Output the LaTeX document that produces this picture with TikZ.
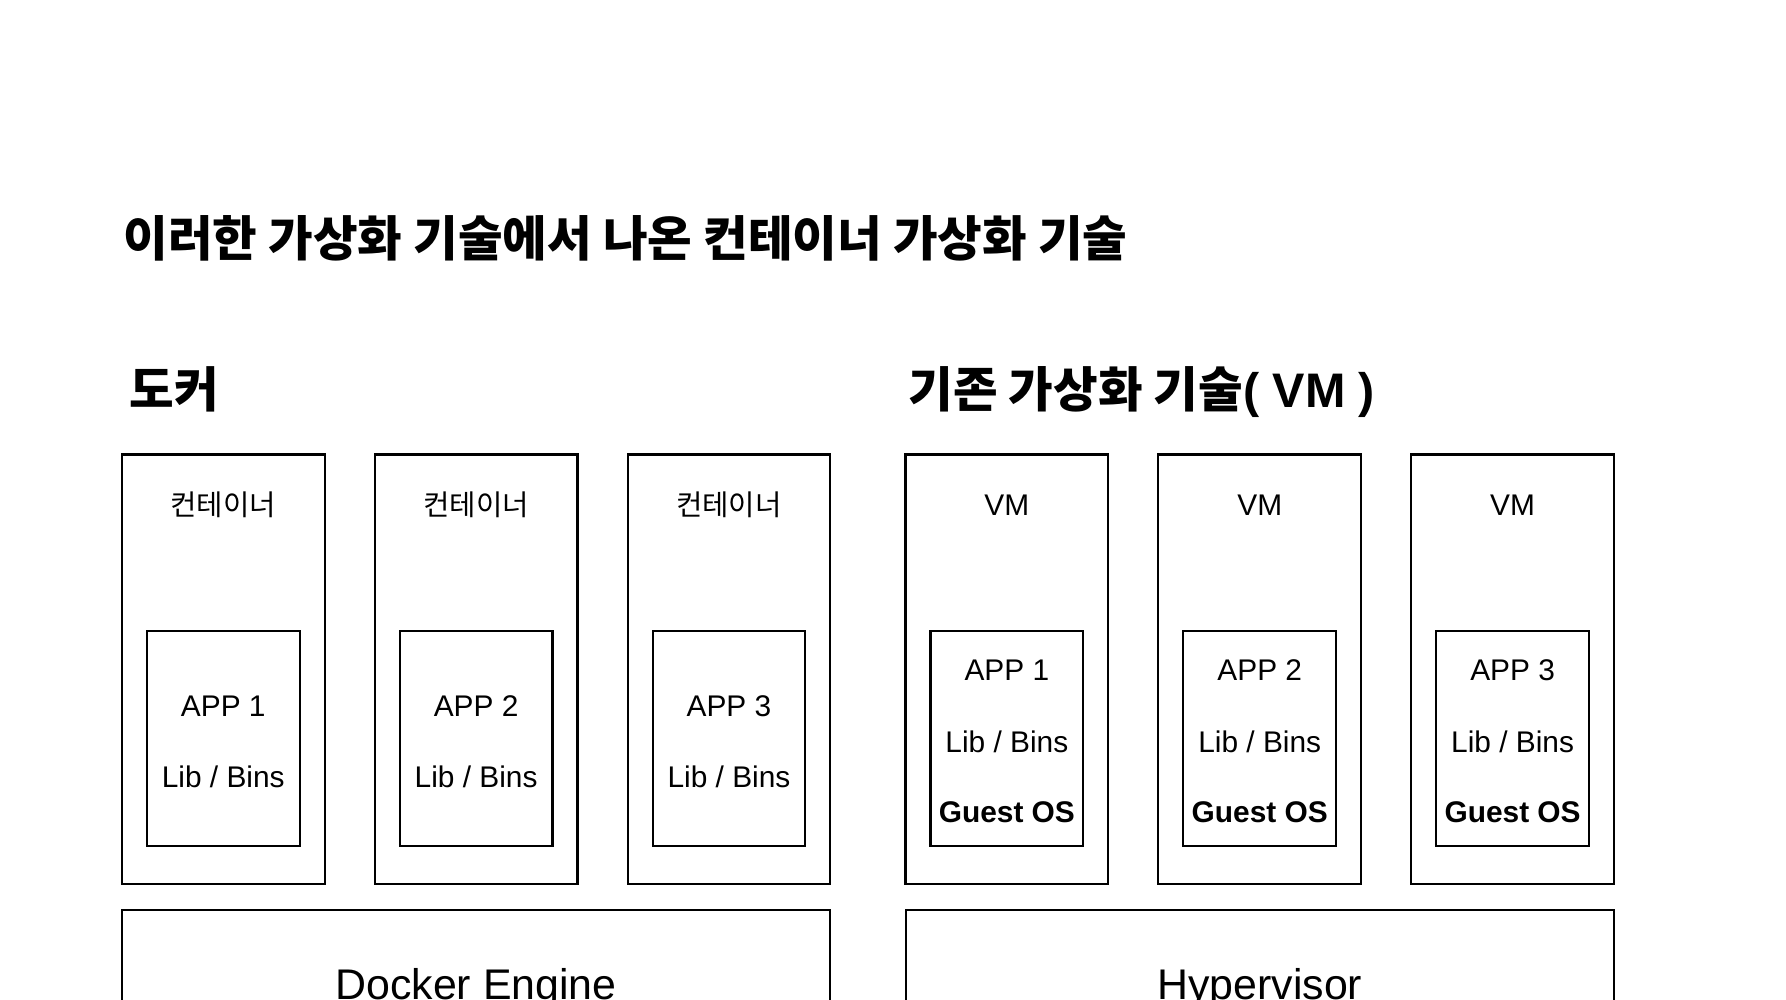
\documentclass[tikz,border=0pt]{standalone}
\usepackage{fontspec}
\setmainfont{Liberation Sans}
\newfontfamily\kofont{Noto Sans CJK KR}
\tikzset{box/.style={draw, line width=0.6pt, inner sep=0pt},
         outer/.style={box, minimum width=2.027cm, minimum height=4.294cm},
         inner/.style={box, minimum width=1.527cm, minimum height=2.153cm},
         base/.style={box, minimum width=7.084cm, minimum height=2.4cm, anchor=north},
         head/.style={font=\fontsize{13.8}{16}\selectfont\kofont\bfseries, anchor=base west, inner sep=0pt},
         txt/.style={font=\fontsize{8.5}{10}\selectfont, anchor=base, inner sep=0pt},
         kotxt/.style={font=\fontsize{8.15}{10}\selectfont\kofont, anchor=base, inner sep=0pt},
         engine/.style={font=\fontsize{12.2}{15}\selectfont, anchor=base, inner sep=0pt}}

\begin{document}
\begin{tikzpicture}
\useasboundingbox (0,0) rectangle (17.86,10);
\clip (0,0) rectangle (17.86,10);
% Titles:
\node[head] (title) at (1.23,7.43) {이러한 가상화 기술에서 나온 컨테이너 가상화 기술};
\node[head] (docker) at (1.287,5.92) {도커};
\node[head] (vmhead) at (9.078,5.92) {기존 가상화 기술{\fontspec{Liberation Sans}( VM )}};

% Docker side:
\node[outer] (con1) at (2.2325,3.308) {};
\node[outer] (con2) at (4.761,3.308) {};
\node[outer] (con3) at (7.2895,3.308) {};
\node[kotxt] (conlbl1) at (2.2325,4.848) {컨테이너};
\node[kotxt] (conlbl2) at (4.761,4.848) {컨테이너};
\node[kotxt] (conlbl3) at (7.2895,4.848) {컨테이너};
\node[inner] (app1) at (2.2325,2.6135) {};
\node[inner] (app2) at (4.761,2.6135) {};
\node[inner] (app3) at (7.2895,2.6135) {};
\node[txt] (appname1) at (2.2325,2.833) {APP 1};
\node[txt] (appname2) at (4.761,2.833) {APP 2};
\node[txt] (appname3) at (7.2895,2.833) {APP 3};
\node[txt] (applib1) at (2.2325,2.125) {Lib / Bins};
\node[txt] (applib2) at (4.761,2.125) {Lib / Bins};
\node[txt] (applib3) at (7.2895,2.125) {Lib / Bins};
\node[base] (dockbox) at (4.761,0.91) {};
\node[engine] (docklbl) at (4.761,0) {Docker Engine};

% VM side:
\node[outer] (vm1) at (10.0685,3.308) {};
\node[outer] (vm2) at (12.5975,3.308) {};
\node[outer] (vm3) at (15.126,3.308) {};
\node[txt] (vmlbl1) at (10.0685,4.847) {VM};
\node[txt] (vmlbl2) at (12.5975,4.847) {VM};
\node[txt] (vmlbl3) at (15.126,4.847) {VM};
\node[inner] (guest1) at (10.0685,2.6135) {};
\node[inner] (guest2) at (12.5975,2.6135) {};
\node[inner] (guest3) at (15.126,2.6135) {};
\node[txt] (vmapp1) at (10.0685,3.196) {APP 1};
\node[txt] (vmapp2) at (12.5975,3.196) {APP 2};
\node[txt] (vmapp3) at (15.126,3.196) {APP 3};
\node[txt] (vmlib1) at (10.0685,2.478) {Lib / Bins};
\node[txt] (vmlib2) at (12.5975,2.478) {Lib / Bins};
\node[txt] (vmlib3) at (15.126,2.478) {Lib / Bins};
\node[txt, font=\fontsize{8.5}{10}\selectfont\bfseries] (os1) at (10.0685,1.773) {Guest OS};
\node[txt, font=\fontsize{8.5}{10}\selectfont\bfseries] (os2) at (12.5975,1.773) {Guest OS};
\node[txt, font=\fontsize{8.5}{10}\selectfont\bfseries] (os3) at (15.126,1.773) {Guest OS};
\node[base] (hyperbox) at (12.5975,0.91) {};
\node[engine] (hyperlbl) at (12.5975,0) {Hypervisor};
\end{tikzpicture}
\end{document}
